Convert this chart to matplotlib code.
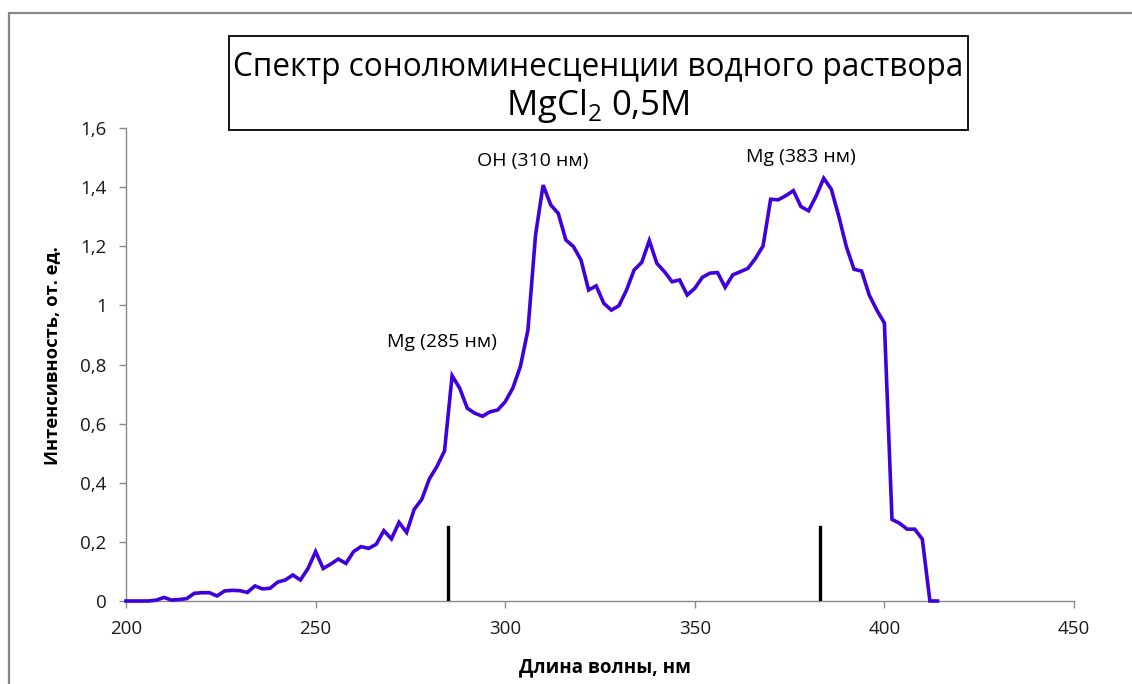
import matplotlib
matplotlib.use("Agg")
import matplotlib.pyplot as plt
from matplotlib.patches import Rectangle

plt.rcParams['font.family'] = ['Open Sans', 'DejaVu Sans']
plt.rcParams['mathtext.fontset'] = 'custom'
plt.rcParams['mathtext.rm'] = 'Open Sans'

wavelength = list(range(200, 416, 2))
intensity = [
    0.0, 0.0, 0.0, 0.0, 0.003, 0.012, 0.003, 0.005, 0.008, 0.026,
    0.028, 0.028, 0.017, 0.034, 0.036, 0.035, 0.029, 0.051, 0.041, 0.043,
    0.064, 0.071, 0.088, 0.071, 0.11, 0.167, 0.11, 0.125, 0.142, 0.127,
    0.167, 0.184, 0.178, 0.192, 0.238, 0.21, 0.266, 0.232, 0.31, 0.344,
    0.413, 0.455, 0.508, 0.762, 0.72, 0.652, 0.635, 0.625, 0.64, 0.646,
    0.674, 0.72, 0.793, 0.917, 1.238, 1.407, 1.34, 1.311, 1.221, 1.199,
    1.153, 1.052, 1.066, 1.007, 0.984, 0.999, 1.052, 1.12, 1.145, 1.219,
    1.142, 1.114, 1.08, 1.086, 1.035, 1.058, 1.095, 1.109, 1.111, 1.061,
    1.103, 1.114, 1.125, 1.159, 1.201, 1.359, 1.357, 1.371, 1.388, 1.334,
    1.32, 1.37, 1.43, 1.393, 1.30, 1.197, 1.122, 1.116, 1.035, 0.984,
    0.94, 0.276, 0.263, 0.243, 0.243, 0.209, 0.0, 0.0,
]

marker_lines = [285, 383]
marker_height = 0.25

annotation_texts = ["Mg (285 нм)", "OH (310 нм)", "Mg (383 нм)"]
annotation_x = [283.3, 307.3, 378.0]
annotation_y = [0.877, 1.488, 1.502]

x_ticks = [200, 250, 300, 350, 400, 450]
y_ticks = [0, 0.2, 0.4, 0.6, 0.8, 1.0, 1.2, 1.4, 1.6]
y_tick_labels = ["0", "0,2", "0,4", "0,6", "0,8", "1", "1,2", "1,4", "1,6"]

title_line1 = "Спектр сонолюминесценции водного раствора"
title_line2 = "MgCl$_2$ 0,5M"
x_label = "Длина волны, нм"
y_label = "Интенсивность, от. ед."

W, H = 1132, 684
fig = plt.figure(figsize=(W / 100, H / 100), dpi=100)
ax = fig.add_axes([126 / W, 1 - 601 / H, (1074 - 126) / W, (601 - 128) / H])

ax.plot(wavelength, intensity, color='#3F00DD', lw=2.6, clip_on=False, zorder=3,
        solid_joinstyle='miter')
for xm in marker_lines:
    ax.plot([xm, xm], [0, marker_height], color='black', lw=2.4, zorder=4)

for txt, xa, ya in zip(annotation_texts, annotation_x, annotation_y):
    ax.text(xa, ya, txt, ha='center', va='center', fontsize=14)

ax.set_xlim(200, 450)
ax.set_ylim(0, 1.6)
ax.set_xticks(x_ticks)
ax.set_xticklabels([str(v) for v in x_ticks])
ax.set_yticks(y_ticks)
ax.set_yticklabels(y_tick_labels)

for s in ['top', 'right']:
    ax.spines[s].set_visible(False)
for s in ['left', 'bottom']:
    ax.spines[s].set_color('#8a8a8a')
    ax.spines[s].set_linewidth(1.0)
ax.tick_params(axis='both', direction='out', length=5, width=1.0, color='#8a8a8a',
               labelsize=13.5, labelcolor='#1a1a1a')
ax.tick_params(axis='x', pad=9)
ax.tick_params(axis='y', pad=9)

fig.text(605 / W, 1 - 667 / H, x_label, ha='center', va='center', fontsize=13.5,
         fontweight='bold')
fig.text(52 / W, 1 - 356 / H, y_label, ha='center', va='center', fontsize=13.2,
         fontweight='bold', rotation=90)

# title box
fig.patches.append(Rectangle((229 / W, 1 - 130 / H), (968 - 229) / W, (130 - 36) / H,
                             transform=fig.transFigure, fill=False, edgecolor='black',
                             lw=1.3))
fig.text(598 / W, 1 - 67 / H, title_line1, ha='center', va='center', fontsize=22.7)
fig.text(598 / W, 1 - 106 / H, title_line2, ha='center', va='center', fontsize=25)

# outer chart border
fig.patches.append(Rectangle((8.5 / W, -0.2), 1.5, 1.2 - 12.5 / H,
                             transform=fig.transFigure, fill=False, edgecolor='#878787',
                             lw=1.6))

fig.savefig("out.png", dpi=100, facecolor='white')
